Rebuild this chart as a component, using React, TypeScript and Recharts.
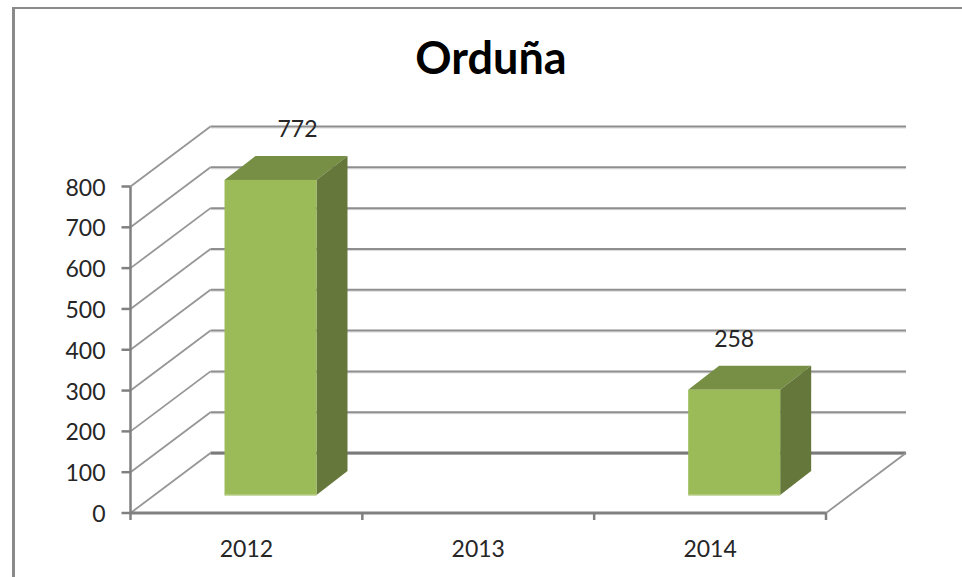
import React from "react";
import { BarChart, Bar, XAxis, YAxis, CartesianGrid, LabelList } from "recharts";

const title = "Orduña";
const years = ["2012", "2013", "2014"];
const values: (number | null)[] = [772, null, 258];
const yTicks = [0, 100, 200, 300, 400, 500, 600, 700, 800];

const rows = years.map((year, i) => ({ year, value: values[i] }));

const FONT = "Lato, 'Open Sans', sans-serif";
const AXIS = "#808080";
const TEXT = "#262626";
const WALL_DX = 80;
const WALL_DY = -60;
const BAR_SHIFT_X = 24;
const BAR_SHIFT_Y = -18;
const DEPTH_X = 31;
const DEPTH_Y = -24;
const LABEL_SHIFT = [27, 0, 19.5];

function GridLine(props: any) {
  const { x1, x2, y1, index } = props;
  const isFloor = y1 > 500;
  return (
    <g key={`wall-${index}`} fill="none">
      <line x1={x1} y1={y1} x2={x1 + WALL_DX} y2={y1 + WALL_DY} stroke="#969696" strokeWidth={1.8} />
      <line x1={x1 + WALL_DX} y1={y1 + WALL_DY + 1.5} x2={x2 + WALL_DX} y2={y1 + WALL_DY + 1.5} stroke="#d9d9d9" strokeWidth={1} />
      <line x1={x1 + WALL_DX} y1={y1 + WALL_DY} x2={x2 + WALL_DX} y2={y1 + WALL_DY} stroke={isFloor ? "#7a7a7a" : "#8e8e8e"} strokeWidth={isFloor ? 3 : 2} />
      {isFloor && (
        <line x1={x2} y1={y1} x2={x2 + WALL_DX} y2={y1 + WALL_DY} stroke="#969696" strokeWidth={1.8} />
      )}
    </g>
  );
}

function Bar3D(props: any) {
  const { x, y, width, height } = props;
  if (!height) return null;
  const l = x + BAR_SHIFT_X;
  const r = l + width;
  const t = y + BAR_SHIFT_Y;
  const b = t + height;
  return (
    <g>
      <polygon
        points={`${l},${t} ${l + DEPTH_X},${t + DEPTH_Y} ${r + DEPTH_X},${t + DEPTH_Y} ${r},${t}`}
        fill="#778F44"
      />
      <polygon
        points={`${r},${t} ${r + DEPTH_X},${t + DEPTH_Y} ${r + DEPTH_X},${b + DEPTH_Y} ${r},${b}`}
        fill="#65773A"
      />
      <rect x={l} y={t} width={width} height={height} fill="#9BBB59" />
      <line x1={l} y1={b} x2={r} y2={b} stroke="#B9CF8A" strokeWidth={1.5} />
    </g>
  );
}

function BarValue(props: any) {
  const { x, y, width, value, index } = props;
  if (value == null) return null;
  return (
    <text
      x={x + width / 2 + BAR_SHIFT_X + LABEL_SHIFT[index]}
      y={y + BAR_SHIFT_Y - 52}
      textAnchor="middle"
      dominantBaseline="central"
      fontFamily={FONT}
      fontSize={23}
      fill={TEXT}
    >
      {value}
    </text>
  );
}

function YTick(props: any) {
  const { x, y, payload } = props;
  return (
    <g>
      <line x1={x - 9} y1={y} x2={x} y2={y} stroke={AXIS} strokeWidth={2.5} />
      <text x={x - 25} y={y} textAnchor="end" dominantBaseline="central" fontFamily={FONT} fontSize={23} fill={TEXT}>
        {payload.value}
      </text>
    </g>
  );
}

function XTick(props: any) {
  const { x, y, payload, index, width, visibleTicksCount } = props;
  const half = width / visibleTicksCount / 2;
  return (
    <g>
      <line x1={x - half} y1={y} x2={x - half} y2={y + 7} stroke={AXIS} strokeWidth={2.5} />
      {index === visibleTicksCount - 1 && (
        <line x1={x + half} y1={y} x2={x + half} y2={y + 7} stroke={AXIS} strokeWidth={2.5} />
      )}
      <text x={x} y={y + 35} textAnchor="middle" dominantBaseline="central" fontFamily={FONT} fontSize={23} fill={TEXT}>
        {payload.value}
      </text>
    </g>
  );
}

export default function App() {
  return (
    <div style={{ position: "absolute", left: 0, top: 0, width: 962, height: 577, background: "#fff", overflow: "hidden" }}>
      <div
        style={{
          position: "absolute",
          left: 12,
          top: 7,
          width: 950,
          height: 570,
          borderLeft: "3px solid #8a8a8a",
          borderTop: "2px solid #8a8a8a",
          boxSizing: "border-box",
        }}
      />
      <div
        style={{
          position: "absolute",
          left: 0,
          width: 982,
          top: 32,
          textAlign: "center",
          fontFamily: FONT,
          fontWeight: 700,
          fontSize: 45,
          lineHeight: "50px",
          color: "#000",
        }}
      >
        {title}
      </div>
      <div style={{ position: "absolute", left: 0, top: 0 }}>
        <BarChart
          width={962}
          height={577}
          data={rows}
          margin={{ top: 186.5, right: 136, bottom: 0, left: 30 }}
          barSize={92}
        >
          <CartesianGrid horizontal={GridLine as any} vertical={false} />
          <XAxis
            dataKey="year"
            height={64}
            axisLine={{ stroke: AXIS, strokeWidth: 3 }}
            tickLine={false}
            tickSize={0}
            tickMargin={0}
            tick={XTick as any}
            interval={0}
          />
          <YAxis
            width={100.5}
            domain={[0, 800]}
            ticks={yTicks}
            axisLine={{ stroke: AXIS, strokeWidth: 2.5 }}
            tickLine={false}
            tickSize={0}
            tickMargin={0}
            tick={YTick as any}
            interval={0}
          />
          <Bar dataKey="value" shape={Bar3D as any} isAnimationActive={false}>
            <LabelList dataKey="value" content={BarValue as any} />
          </Bar>
        </BarChart>
      </div>
    </div>
  );
}
